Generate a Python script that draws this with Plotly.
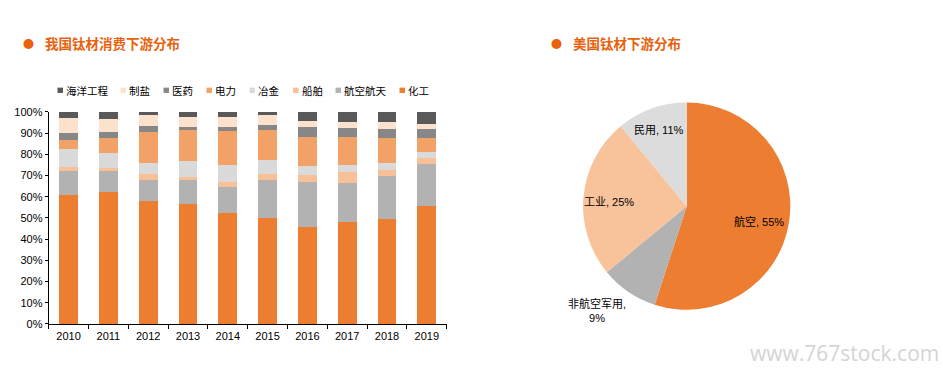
import plotly.graph_objects as go

W, H = 943, 378

years = ["2010", "2011", "2012", "2013", "2014", "2015", "2016", "2017", "2018", "2019"]
huagong = [61.0, 62.4, 57.8, 56.3, 52.4, 50.1, 45.5, 48.2, 49.6, 55.6]
hangkong_hangtian = [11.0, 9.6, 10.2, 12.0, 12.3, 17.8, 21.5, 18.3, 20.1, 19.6]
chuanbo = [2.1, 1.7, 2.6, 0.8, 2.3, 3.0, 3.0, 5.0, 2.8, 3.2]
yejin = [8.4, 6.8, 5.3, 7.5, 7.7, 6.3, 4.4, 3.2, 3.3, 2.7]
dianli = [4.4, 7.3, 14.4, 14.9, 16.3, 14.3, 13.9, 13.6, 11.7, 6.4]
yiyao = [3.2, 2.8, 3.0, 1.3, 1.8, 2.3, 4.5, 4.1, 4.4, 4.6]
zhiyan = [6.9, 6.1, 5.0, 4.6, 4.6, 4.5, 2.8, 2.9, 3.4, 2.1]
haiyang = [3.0, 3.3, 1.7, 2.6, 2.6, 1.7, 4.4, 4.7, 4.7, 5.8]

series_names = ["化工", "航空航天", "船舶", "冶金", "电力", "医药", "制盐", "海洋工程"]
series_values = [huagong, hangkong_hangtian, chuanbo, yejin, dianli, yiyao, zhiyan, haiyang]
series_colors = ["#ED7D31", "#B2B2B2", "#F8C096", "#DADADA", "#F3A267", "#878787", "#FCE1CD", "#595959"]

pie_labels = ["航空", "非航空军用", "工业", "民用"]
pie_values = [55, 9, 25, 11]
pie_colors = ["#ED7D31", "#B2B2B2", "#F8C29A", "#DCDCDC"]

title_left = "我国钛材消费下游分布"
title_right = "美国钛材下游分布"
watermark = "www.767stock.com"

FONT = "Liberation Sans, Arial, Noto Sans CJK SC, sans-serif"
CJK = "Noto Sans CJK SC, sans-serif"


def px(x):
    return x / W


def py(y):
    return 1 - y / H


fig = go.Figure()
for name, vals, col in zip(series_names, series_values, series_colors):
    fig.add_trace(go.Bar(x=years, y=vals, name=name, marker=dict(color=col, line=dict(width=0)),
                         showlegend=False))

fig.add_trace(go.Pie(
    labels=pie_labels, values=pie_values, sort=False, direction="clockwise", rotation=0,
    marker=dict(colors=pie_colors, line=dict(width=0)),
    textinfo="none",
    domain=dict(x=[px(686.7 - 107), px(686.7 + 107)], y=[py(206.7 + 107), py(206.7 - 107)]),
    showlegend=False,
))

annotations = []
shapes = []
# titles with bullets
for bx, tx, txt in [(28, 43, title_left), (556, 571, title_right)]:
    annotations.append(dict(x=px(bx), y=py(38), xref="paper", yref="paper", text="●", showarrow=False,
                            xanchor="center", yanchor="middle", font=dict(size=11, color="#E8620E", family=CJK)))
    annotations.append(dict(x=px(tx), y=py(38.5), xref="paper", yref="paper", text="<b>" + txt + "</b>",
                            showarrow=False, xanchor="left", yanchor="middle",
                            font=dict(size=13.5, color="#E8620E", family=CJK)))

# legend (order reversed as in the source: top of stack first)
leg_x = [57.5, 120.5, 163.5, 206.5, 249.5, 293, 335.5, 399.5]
for lx, name, col in zip(leg_x, series_names[::-1], series_colors[::-1]):
    shapes.append(dict(type="rect", xref="paper", yref="paper", x0=px(lx), x1=px(lx + 5.5),
                       y0=py(89.8), y1=py(84.3), fillcolor=col, line=dict(width=0)))
    annotations.append(dict(x=px(lx + 6.5), y=py(87.3), xref="paper", yref="paper", text=name, showarrow=False,
                            xanchor="left", yanchor="middle", font=dict(size=10.5, color="#000000", family=CJK)))

# pie data labels (text built from the pie arrays)
pie_label_pos = [(759, 223), (597, 314), (609, 202), (658.5, 128)]
for (lx, ly), lab, val in zip(pie_label_pos, pie_labels, pie_values):
    sep = ",<br>" if lab == "非航空军用" else ", "
    annotations.append(dict(x=px(lx), y=py(ly), xref="paper", yref="paper", text=f"{lab}{sep}{val}%",
                            showarrow=False, xanchor="center", yanchor="middle", align="center",
                            font=dict(size=11, color="#000000", family=FONT)))

annotations.append(dict(x=px(941), y=py(358), xref="paper", yref="paper", text=watermark, showarrow=False,
                        xanchor="right", yanchor="middle",
                        font=dict(size=21, color="#D4D4D4", family="Open Sans, sans-serif")))

fig.update_layout(
    width=W, height=H, margin=dict(l=0, r=0, t=0, b=0),
    paper_bgcolor="white", plot_bgcolor="white",
    barmode="stack", bargap=0.53, hovermode=False,
    font=dict(family=FONT, size=11, color="#000000"),
    xaxis=dict(domain=[px(48.7), px(446.7)], showline=True, linecolor="#000000", linewidth=1,
               ticks="outside", ticklen=4, tickcolor="#000000", tickson="boundaries",
               ticklabelstandoff=2, showgrid=False, tickfont=dict(size=11), fixedrange=True),
    yaxis=dict(domain=[py(328.3), py(109.3)], range=[0, 100], dtick=10, ticksuffix="%",
               showline=True, linecolor="#000000", linewidth=1, ticks="outside", ticklen=3,
               tickcolor="#000000", showgrid=False, zeroline=False, tickfont=dict(size=11),
               fixedrange=True),
    annotations=annotations, shapes=shapes,
)

fig.write_html("out.html", config={"displayModeBar": False},
               post_script="document.body.style.margin='0';document.body.style.overflow='hidden';")
